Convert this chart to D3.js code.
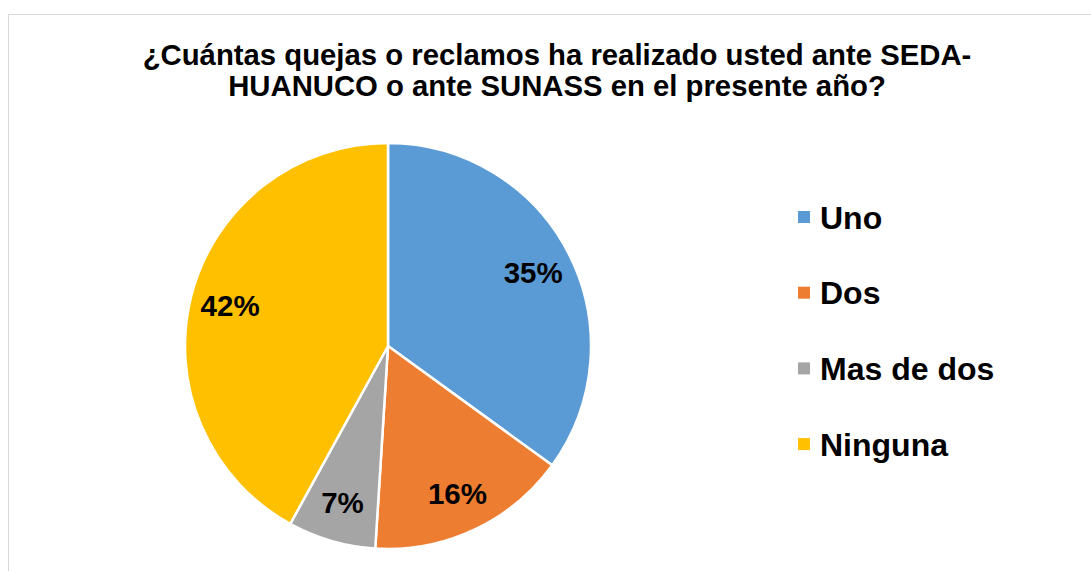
<!DOCTYPE html>
<html><head><meta charset="utf-8">
<script src="https://cdn.jsdelivr.net/npm/d3@7"></script>
<style>body{margin:0;background:#fff;}svg{display:block;}</style>
</head><body>
<script>
const categories = ["Uno", "Dos", "Mas de dos", "Ninguna"];
const values = [35, 16, 7, 42];
const colors = ["#5B9BD5", "#ED7D31", "#A5A5A5", "#FFC000"];
const titleLines = ["¿Cuántas quejas o reclamos ha realizado usted ante SEDA-", "HUANUCO o ante SUNASS en el presente año?"];

const W = 1091, H = 571;
const svg = d3.select("body").append("svg").attr("width", W).attr("height", H);
const font = "'Liberation Sans', Arial, sans-serif";

svg.append("rect").attr("x", 8.5).attr("y", 14.5).attr("width", W + 10).attr("height", H + 10)
  .attr("fill", "#fff").attr("stroke", "#D9D9D9").attr("stroke-width", 1);

svg.append("g").selectAll("text").data(titleLines).join("text")
  .attr("x", 557).attr("y", (d, i) => 65 + i * 31)
  .attr("text-anchor", "middle").attr("font-family", font).attr("font-weight", "bold")
  .attr("font-size", 29.3).attr("fill", "#000").text(d => d);

const cx = 388, cy = 346, R = 203;
const color = d3.scaleOrdinal().domain(categories).range(colors);
const pie = d3.pie().sort(null).value(d => d.v);
const data = pie(categories.map((c, i) => ({ c, v: values[i] })));
const arc = d3.arc().innerRadius(0).outerRadius(R);
const labelArc = d3.arc().innerRadius(163).outerRadius(163);
const total = d3.sum(values);

const g = svg.append("g").attr("transform", `translate(${cx},${cy})`);
g.selectAll("path").data(data).join("path")
  .attr("d", arc).attr("fill", d => color(d.data.c))
  .attr("stroke", "#fff").attr("stroke-width", 2.5).attr("stroke-linejoin", "round");

g.selectAll("text").data(data).join("text")
  .attr("transform", d => `translate(${labelArc.centroid(d)})`)
  .attr("text-anchor", "middle").attr("dy", "0.36em")
  .attr("font-family", font).attr("font-weight", "bold").attr("font-size", 29.5)
  .attr("fill", "#000")
  .text(d => Math.round(d.data.v / total * 100) + "%");

const lg = svg.append("g");
const items = lg.selectAll("g").data(categories).join("g")
  .attr("transform", (d, i) => `translate(798,${217 + i * 75.7})`);
items.append("rect").attr("x", 0).attr("y", -6).attr("width", 12).attr("height", 12)
  .attr("fill", d => color(d));
items.append("text").attr("x", 22).attr("y", 0).attr("dy", "0.36em")
  .attr("font-family", font).attr("font-weight", "bold").attr("font-size", 32)
  .attr("fill", "#000").text(d => d);
</script>
</body></html>
